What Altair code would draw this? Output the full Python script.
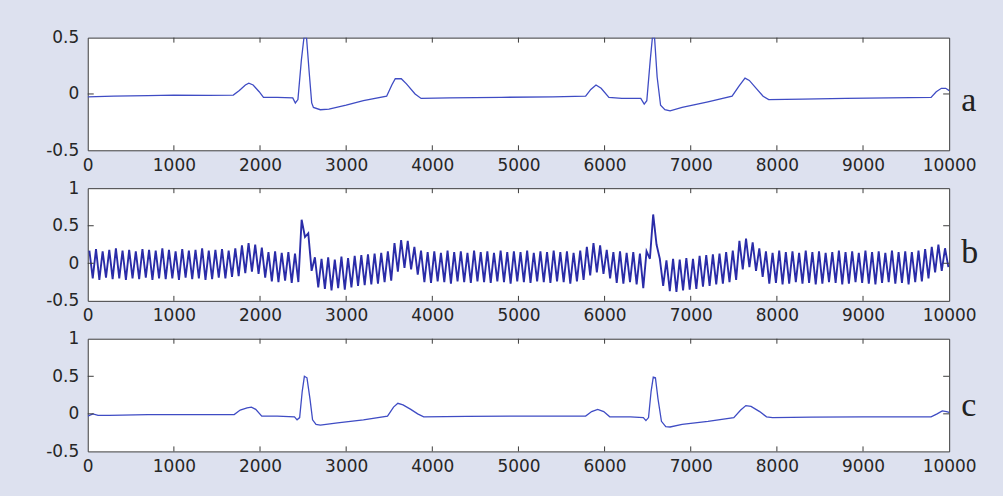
import altair as alt
import pandas as pd

# ---------------- data ----------------
X_TICKS = [0, 1000, 2000, 3000, 4000, 5000, 6000, 7000, 8000, 9000, 10000]
YTICKS_A = [-0.5, 0, 0.5]
YTICKS_BC = [-0.5, 0, 0.5, 1]

# panel a : original ECG
A_X = [0, 300, 700, 1000, 1400, 1690, 1760, 1830, 1870, 1920, 1990, 2040, 2200, 2380, 2410, 2440,
       2480, 2510, 2540, 2570, 2600, 2620, 2700, 2800, 3000, 3200, 3470, 3530, 3570, 3640, 3700,
       3800, 3870, 4200, 4800, 5400, 5780, 5840, 5900, 5960, 6050, 6200, 6420, 6460, 6490, 6530,
       6555, 6580, 6610, 6650, 6700, 6760, 6900, 7200, 7480, 7560, 7630, 7680, 7760, 7840, 7905,
       8300, 8800, 9300, 9790, 9850, 9910, 9960, 10000]
A_Y = [-0.025, -0.02, -0.015, -0.01, -0.012, -0.01, 0.03, 0.08, 0.095, 0.08, 0.02, -0.03, -0.03,
       -0.035, -0.08, -0.05, 0.3, 0.5, 0.5, 0.2, -0.08, -0.12, -0.14, -0.135, -0.1, -0.06, -0.02,
       0.08, 0.135, 0.135, 0.09, 0.0, -0.04, -0.035, -0.03, -0.025, -0.02, 0.04, 0.08, 0.05, -0.03,
       -0.04, -0.04, -0.09, -0.06, 0.3, 0.5, 0.5, 0.15, -0.1, -0.14, -0.15, -0.12, -0.07, -0.02,
       0.07, 0.14, 0.12, 0.05, -0.02, -0.05, -0.045, -0.04, -0.035, -0.03, 0.02, 0.05, 0.05, 0.03]

# panel b : ECG with power-line interference (peak / trough of each interference cycle)
B_PERIOD = 77
B_TOPS = [0.17, 0.19, 0.16, 0.18, 0.2, 0.17, 0.18, 0.16, 0.19, 0.18, 0.17, 0.2, 0.18, 0.16, 0.19,
          0.17, 0.18, 0.2, 0.17, 0.18, 0.19, 0.17,
          0.2, 0.24, 0.27, 0.25, 0.21,
          0.15, 0.16, 0.14, 0.15, 0.13,
          0.58, 0.4, 0.08,
          0.06, 0.08, 0.05, 0.09, 0.07,
          0.1, 0.11, 0.12, 0.13, 0.14, 0.16,
          0.27, 0.31, 0.3, 0.22,
          0.17, 0.15, 0.16, 0.14, 0.17, 0.15, 0.16, 0.14, 0.17, 0.15, 0.16, 0.14, 0.17, 0.15, 0.16,
          0.15, 0.17, 0.14, 0.16, 0.15, 0.17, 0.15, 0.16, 0.14, 0.17,
          0.22, 0.27, 0.24, 0.18,
          0.15, 0.16, 0.14, 0.15, 0.13,
          0.16, 0.65, 0.06,
          0.04, 0.06, 0.05, 0.07, 0.06,
          0.1, 0.11, 0.12, 0.13, 0.15, 0.17,
          0.3, 0.33, 0.28, 0.2,
          0.16, 0.14, 0.17, 0.15, 0.16, 0.14, 0.17, 0.15, 0.16, 0.14, 0.15, 0.17, 0.15, 0.16, 0.14,
          0.17, 0.15, 0.16, 0.14, 0.17, 0.15, 0.16, 0.15, 0.17, 0.19,
          0.22, 0.25, 0.2]
B_BOTS = [-0.2, -0.22, -0.19, -0.21, -0.2, -0.22, -0.2, -0.21, -0.19, -0.22, -0.2, -0.21, -0.2,
          -0.22, -0.19, -0.21, -0.2, -0.22, -0.21, -0.19, -0.2, -0.18,
          -0.17, -0.13, -0.11, -0.14, -0.19,
          -0.24, -0.25, -0.23, -0.26, -0.25,
          0.35, -0.1, -0.32,
          -0.34, -0.36, -0.33, -0.35, -0.32,
          -0.3, -0.29, -0.28, -0.27, -0.25, -0.23,
          -0.11, -0.06, -0.08, -0.15,
          -0.25, -0.26, -0.24, -0.25, -0.27, -0.24, -0.25, -0.26, -0.24, -0.25, -0.26, -0.24, -0.25,
          -0.27, -0.24, -0.25, -0.26, -0.24, -0.25, -0.26, -0.24, -0.25, -0.27, -0.24, -0.22,
          -0.16, -0.12, -0.14, -0.2,
          -0.26, -0.27, -0.25, -0.28, -0.33,
          0.06, 0.25, -0.3,
          -0.37, -0.38, -0.36, -0.35, -0.34,
          -0.31, -0.3, -0.28, -0.27, -0.25, -0.22,
          -0.08, -0.05, -0.1, -0.18,
          -0.27, -0.26, -0.28, -0.27, -0.25, -0.27, -0.26, -0.28, -0.27, -0.25, -0.26, -0.28, -0.27,
          -0.25, -0.26, -0.27, -0.28, -0.26, -0.25, -0.27, -0.26, -0.28, -0.25, -0.24, -0.2,
          -0.12, -0.1, -0.05]

# panel c : filtered ECG
C_X = [0, 60, 120, 250, 700, 1200, 1700, 1770, 1850, 1900, 1950, 2020, 2200, 2400, 2430, 2460,
       2490, 2515, 2545, 2580, 2610, 2650, 2700, 2900, 3200, 3480, 3550, 3600, 3660, 3750, 3830,
       3900, 4400, 5000, 5780, 5850, 5920, 5990, 6060, 6300, 6450, 6480, 6510, 6540, 6565, 6590,
       6620, 6660, 6710, 6760, 6900, 7200, 7500, 7580, 7640, 7700, 7800, 7880, 7950, 8400, 9000,
       9790, 9860, 9920, 9970, 10000]
C_Y = [-0.03, 0.0, -0.02, -0.02, -0.01, -0.01, -0.01, 0.05, 0.08, 0.09, 0.06, -0.03, -0.03, -0.04,
       -0.08, -0.05, 0.3, 0.5, 0.48, 0.2, -0.08, -0.14, -0.15, -0.12, -0.08, -0.03, 0.09, 0.14,
       0.12, 0.06, 0.0, -0.04, -0.035, -0.03, -0.03, 0.03, 0.06, 0.03, -0.04, -0.04, -0.05, -0.09,
       -0.05, 0.3, 0.49, 0.48, 0.2, -0.1, -0.17, -0.175, -0.14, -0.1, -0.05, 0.05, 0.11, 0.1, 0.03,
       -0.04, -0.05, -0.045, -0.04, -0.04, 0.0, 0.04, 0.03, 0.02]

# ---------------- build tables ----------------
df_a = pd.DataFrame({"t": A_X, "v": A_Y})
df_c = pd.DataFrame({"t": C_X, "v": C_Y})
b_t, b_v = [], []
for i, (hi, lo) in enumerate(zip(B_TOPS, B_BOTS)):
    b_t += [i * B_PERIOD + 19, i * B_PERIOD + 58]
    b_v += [hi, lo]
df_b = pd.DataFrame({"t": b_t, "v": b_v})

W, H = 864, 113
FONT = "DejaVu Sans"
LABEL_COLOR = "#262626"
FRAME = "#3c3c3c"


def panel(df, ydom, yticks, letter, color, sw, letter_y):
    xs = alt.Scale(domain=[0, 10000], nice=False, zero=False)
    ys = alt.Scale(domain=ydom, nice=False, zero=False)
    xaxis = alt.Axis(
        values=X_TICKS, ticks=False, domain=False, grid=False, title=None,
        labelFlush=False, labelPadding=7, labelFont=FONT, labelFontSize=17,
        labelColor=LABEL_COLOR, labelExpr="'' + datum.value")
    yaxis = alt.Axis(
        values=yticks, ticks=False, domain=False, grid=False, title=None,
        labelPadding=9, labelFont=FONT, labelFontSize=17,
        labelColor=LABEL_COLOR, labelExpr="'' + datum.value")
    line = alt.Chart(df).mark_line(color=color, strokeWidth=sw, clip=True).encode(
        x=alt.X("t:Q", scale=xs, axis=xaxis),
        y=alt.Y("v:Q", scale=ys, axis=yaxis),
    )
    xt = pd.DataFrame({"t": X_TICKS[1:-1]})
    yt = pd.DataFrame({"v": yticks[1:-1]})
    bot = alt.Chart(xt).mark_rule(color=FRAME, strokeWidth=1).encode(
        x=alt.X("t:Q", scale=xs, axis=xaxis), y=alt.value(H), y2=alt.value(H - 5))
    top = alt.Chart(xt).mark_rule(color=FRAME, strokeWidth=1).encode(
        x=alt.X("t:Q", scale=xs, axis=xaxis), y=alt.value(0), y2=alt.value(5))
    left = alt.Chart(yt).mark_rule(color=FRAME, strokeWidth=1).encode(
        y=alt.Y("v:Q", scale=ys, axis=yaxis), x=alt.value(0), x2=alt.value(6))
    right = alt.Chart(yt).mark_rule(color=FRAME, strokeWidth=1).encode(
        y=alt.Y("v:Q", scale=ys, axis=yaxis), x=alt.value(W - 6), x2=alt.value(W))
    txt = alt.Chart(pd.DataFrame({"k": [letter]})).mark_text(
        font="Liberation Serif", fontSize=34, align="left", baseline="alphabetic",
        color="#222222").encode(x=alt.value(W + 12), y=alt.value(letter_y), text="k:N")
    return alt.layer(line, bot, top, left, right, txt).properties(width=W, height=H)


pa = panel(df_a, [-0.5, 0.5], YTICKS_A, "a", "#3f4cc4", 1.3, 74)
pb = panel(df_b, [-0.5, 1], YTICKS_BC, "b", "#2a2ca8", 1.9, 75)
pc = panel(df_c, [-0.5, 1], YTICKS_BC, "c", "#3f4cc4", 1.3, 78)

chart = alt.vconcat(pa, pb, pc, spacing=38, bounds="flush").properties(
    padding={"left": 45, "top": 27, "right": 24, "bottom": 22}
).configure(background="#dde1ef").configure_view(
    stroke=FRAME, strokeWidth=1, fill="white"
)

chart.save("out.html", embed_options={"renderer": "svg", "actions": False})
